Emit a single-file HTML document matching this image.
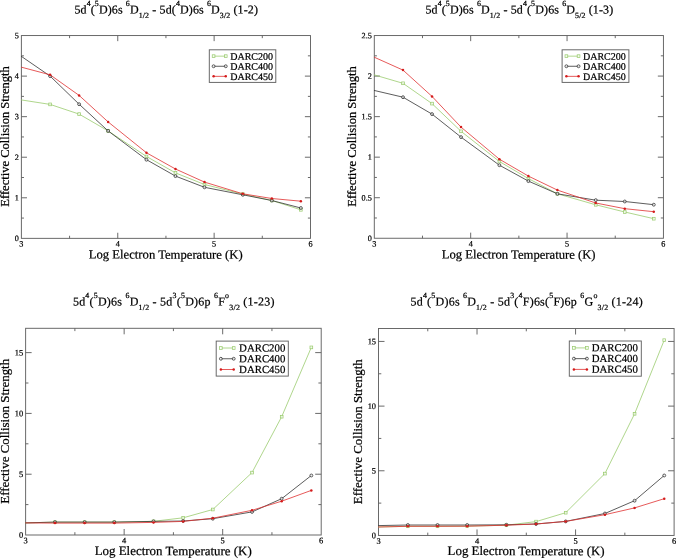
<!DOCTYPE html>
<html><head><meta charset="utf-8"><title>Effective collision strengths</title>
<style>html,body{margin:0;padding:0;background:#fff}svg{display:block}text{font-family:"Liberation Serif",serif;fill:#000;stroke:#000;stroke-width:0.22px}</style>
</head><body>
<svg width="676" height="559" viewBox="0 0 676 559">
<rect width="676" height="559" fill="#fff"/>
<rect x="21.38" y="35.55" width="289.12" height="202.80" fill="none" stroke="#626262" stroke-width="0.95"/>
<path d="M69.57 238.35v-2.60M69.57 35.55v2.60M117.75 238.35v-5.60M117.75 35.55v5.60M165.94 238.35v-2.60M165.94 35.55v2.60M214.13 238.35v-5.60M214.13 35.55v5.60M262.31 238.35v-2.60M262.31 35.55v2.60M21.38 218.07h2.60M310.50 218.07h-2.60M21.38 197.79h5.60M310.50 197.79h-5.60M21.38 177.51h2.60M310.50 177.51h-2.60M21.38 157.23h5.60M310.50 157.23h-5.60M21.38 136.95h2.60M310.50 136.95h-2.60M21.38 116.67h5.60M310.50 116.67h-5.60M21.38 96.39h2.60M310.50 96.39h-2.60M21.38 76.11h5.60M310.50 76.11h-5.60M21.38 55.83h2.60M310.50 55.83h-2.60" stroke="#626262" stroke-width="0.95" fill="none"/>
<text x="21.38" y="246.60" transform="rotate(0.04 21.38 246.60)" font-size="8.2" stroke-width="0.08" text-anchor="middle">3</text>
<text x="117.75" y="246.60" transform="rotate(0.04 117.75 246.60)" font-size="8.2" stroke-width="0.08" text-anchor="middle">4</text>
<text x="214.13" y="246.60" transform="rotate(0.04 214.13 246.60)" font-size="8.2" stroke-width="0.08" text-anchor="middle">5</text>
<text x="310.50" y="246.60" transform="rotate(0.04 310.50 246.60)" font-size="8.2" stroke-width="0.08" text-anchor="middle">6</text>
<text x="18.88" y="241.05" transform="rotate(0.04 18.88 241.05)" font-size="8.2" stroke-width="0.08" text-anchor="end">0</text>
<text x="18.88" y="200.49" transform="rotate(0.04 18.88 200.49)" font-size="8.2" stroke-width="0.08" text-anchor="end">1</text>
<text x="18.88" y="159.93" transform="rotate(0.04 18.88 159.93)" font-size="8.2" stroke-width="0.08" text-anchor="end">2</text>
<text x="18.88" y="119.37" transform="rotate(0.04 18.88 119.37)" font-size="8.2" stroke-width="0.08" text-anchor="end">3</text>
<text x="18.88" y="78.81" transform="rotate(0.04 18.88 78.81)" font-size="8.2" stroke-width="0.08" text-anchor="end">4</text>
<text x="18.88" y="38.25" transform="rotate(0.04 18.88 38.25)" font-size="8.2" stroke-width="0.08" text-anchor="end">5</text>
<text x="165.74" y="258.65" transform="rotate(0.04 165.74 258.65)" font-size="12.67" text-anchor="middle">Log Electron Temperature (K)</text>
<text transform="translate(9.1 136.4) rotate(-90)" font-size="12.55" text-anchor="middle">Effective Collision Strength</text>
<text x="74.40" y="13.40" transform="rotate(0.04 74.40 13.40)" font-size="12.0" letter-spacing="0.124" >5d</text>
<text x="86.65" y="6.00" transform="rotate(0.04 86.65 6.00)" font-size="7.9" letter-spacing="0.124" >4</text>
<text x="90.72" y="13.40" transform="rotate(0.04 90.72 13.40)" font-size="12.0" letter-spacing="0.124" >(</text>
<text x="94.84" y="6.00" transform="rotate(0.04 94.84 6.00)" font-size="7.9" letter-spacing="0.124" >5</text>
<text x="98.92" y="13.40" transform="rotate(0.04 98.92 13.40)" font-size="12.0" letter-spacing="0.124" >D)6s&#160;</text>
<text x="125.87" y="6.00" transform="rotate(0.04 125.87 6.00)" font-size="7.9" letter-spacing="0.124" >6</text>
<text x="129.94" y="13.40" transform="rotate(0.04 129.94 13.40)" font-size="12.0" letter-spacing="0.124" >D</text>
<text x="138.73" y="17.90" transform="rotate(0.04 138.73 17.90)" font-size="7.9" letter-spacing="0.124" >1/2</text>
<text x="149.20" y="13.40" transform="rotate(0.04 149.20 13.40)" font-size="12.0" letter-spacing="0.124" >&#160;-&#160;5d(</text>
<text x="175.93" y="6.00" transform="rotate(0.04 175.93 6.00)" font-size="7.9" letter-spacing="0.124" >4</text>
<text x="180.01" y="13.40" transform="rotate(0.04 180.01 13.40)" font-size="12.0" letter-spacing="0.124" >D)6s&#160;</text>
<text x="206.96" y="6.00" transform="rotate(0.04 206.96 6.00)" font-size="7.9" letter-spacing="0.124" >6</text>
<text x="211.03" y="13.40" transform="rotate(0.04 211.03 13.40)" font-size="12.0" letter-spacing="0.124" >D</text>
<text x="219.82" y="17.90" transform="rotate(0.04 219.82 17.90)" font-size="7.9" letter-spacing="0.124" >3/2</text>
<text x="230.29" y="13.40" transform="rotate(0.04 230.29 13.40)" font-size="12.0" letter-spacing="0.124" >&#160;(1-2)</text>
<polyline points="21.1,99.9 50.1,104.4 79.1,114.1 108.1,130.9 146.5,156.5 175.5,172.9 204.5,184.5 242.8,194.1 271.8,200.5 300.9,209.8" fill="none" stroke="#9acb6e" stroke-width="0.8"/>
<rect x="48.74" y="103.05" width="2.7" height="2.7" fill="#fff" fill-opacity="0.6" stroke="#9acb6e" stroke-width="0.75"/>
<rect x="77.75" y="112.75" width="2.7" height="2.7" fill="#fff" fill-opacity="0.6" stroke="#9acb6e" stroke-width="0.75"/>
<rect x="106.76" y="129.55" width="2.7" height="2.7" fill="#fff" fill-opacity="0.6" stroke="#9acb6e" stroke-width="0.75"/>
<rect x="145.11" y="155.15" width="2.7" height="2.7" fill="#fff" fill-opacity="0.6" stroke="#9acb6e" stroke-width="0.75"/>
<rect x="174.12" y="171.55" width="2.7" height="2.7" fill="#fff" fill-opacity="0.6" stroke="#9acb6e" stroke-width="0.75"/>
<rect x="203.13" y="183.15" width="2.7" height="2.7" fill="#fff" fill-opacity="0.6" stroke="#9acb6e" stroke-width="0.75"/>
<rect x="241.49" y="192.75" width="2.7" height="2.7" fill="#fff" fill-opacity="0.6" stroke="#9acb6e" stroke-width="0.75"/>
<rect x="270.49" y="199.15" width="2.7" height="2.7" fill="#fff" fill-opacity="0.6" stroke="#9acb6e" stroke-width="0.75"/>
<rect x="299.50" y="208.45" width="2.7" height="2.7" fill="#fff" fill-opacity="0.6" stroke="#9acb6e" stroke-width="0.75"/>
<polyline points="21.1,56.2 50.1,76.1 79.1,104.2 108.1,130.9 146.5,159.7 175.5,176.1 204.5,187.3 242.8,194.8 271.8,200.5 300.9,208.0" fill="none" stroke="#333" stroke-width="0.8"/>
<circle cx="50.09" cy="76.10" r="1.45" fill="#fff" fill-opacity="0.6" stroke="#333" stroke-width="0.8"/>
<circle cx="79.10" cy="104.20" r="1.45" fill="#fff" fill-opacity="0.6" stroke="#333" stroke-width="0.8"/>
<circle cx="108.11" cy="130.90" r="1.45" fill="#fff" fill-opacity="0.6" stroke="#333" stroke-width="0.8"/>
<circle cx="146.46" cy="159.70" r="1.45" fill="#fff" fill-opacity="0.6" stroke="#333" stroke-width="0.8"/>
<circle cx="175.47" cy="176.10" r="1.45" fill="#fff" fill-opacity="0.6" stroke="#333" stroke-width="0.8"/>
<circle cx="204.48" cy="187.30" r="1.45" fill="#fff" fill-opacity="0.6" stroke="#333" stroke-width="0.8"/>
<circle cx="242.84" cy="194.80" r="1.45" fill="#fff" fill-opacity="0.6" stroke="#333" stroke-width="0.8"/>
<circle cx="271.84" cy="200.50" r="1.45" fill="#fff" fill-opacity="0.6" stroke="#333" stroke-width="0.8"/>
<circle cx="300.85" cy="208.00" r="1.45" fill="#fff" fill-opacity="0.6" stroke="#333" stroke-width="0.8"/>
<polyline points="21.1,67.1 50.1,74.8 79.1,95.4 108.1,121.9 146.5,152.8 175.5,169.0 204.5,182.1 242.8,193.8 271.8,198.5 300.9,201.2" fill="none" stroke="#e03030" stroke-width="0.8"/>
<circle cx="50.09" cy="74.80" r="1.25" fill="#d41c1c"/>
<circle cx="79.10" cy="95.40" r="1.25" fill="#d41c1c"/>
<circle cx="108.11" cy="121.90" r="1.25" fill="#d41c1c"/>
<circle cx="146.46" cy="152.80" r="1.25" fill="#d41c1c"/>
<circle cx="175.47" cy="169.00" r="1.25" fill="#d41c1c"/>
<circle cx="204.48" cy="182.10" r="1.25" fill="#d41c1c"/>
<circle cx="242.84" cy="193.80" r="1.25" fill="#d41c1c"/>
<circle cx="271.84" cy="198.50" r="1.25" fill="#d41c1c"/>
<circle cx="300.85" cy="201.20" r="1.25" fill="#d41c1c"/>
<rect x="209.30" y="49.80" width="66.50" height="32.60" fill="#fff" stroke="#626262" stroke-width="0.95"/>
<path d="M213.60 56.15H225.75" stroke="#9acb6e" stroke-width="0.8"/>
<rect x="212.25" y="54.80" width="2.7" height="2.7" fill="#fff" fill-opacity="0.6" stroke="#9acb6e" stroke-width="0.75"/>
<rect x="224.40" y="54.80" width="2.7" height="2.7" fill="#fff" fill-opacity="0.6" stroke="#9acb6e" stroke-width="0.75"/>
<text x="230.20" y="59.70" transform="rotate(0.04 230.20 59.70)" font-size="10">DARC200</text>
<path d="M213.60 66.25H225.75" stroke="#333" stroke-width="0.8"/>
<circle cx="213.60" cy="66.25" r="1.45" fill="#fff" fill-opacity="0.6" stroke="#333" stroke-width="0.8"/>
<circle cx="225.75" cy="66.25" r="1.45" fill="#fff" fill-opacity="0.6" stroke="#333" stroke-width="0.8"/>
<text x="230.20" y="69.80" transform="rotate(0.04 230.20 69.80)" font-size="10">DARC400</text>
<path d="M213.60 76.35H225.75" stroke="#e03030" stroke-width="0.8"/>
<circle cx="213.60" cy="76.35" r="1.25" fill="#d41c1c"/>
<circle cx="225.75" cy="76.35" r="1.25" fill="#d41c1c"/>
<text x="230.20" y="79.90" transform="rotate(0.04 230.20 79.90)" font-size="10">DARC450</text>
<rect x="374.30" y="35.55" width="289.13" height="202.70" fill="none" stroke="#626262" stroke-width="0.95"/>
<path d="M422.49 238.25v-2.60M422.49 35.55v2.60M470.68 238.25v-5.60M470.68 35.55v5.60M518.87 238.25v-2.60M518.87 35.55v2.60M567.05 238.25v-5.60M567.05 35.55v5.60M615.24 238.25v-2.60M615.24 35.55v2.60M374.30 217.98h2.60M663.43 217.98h-2.60M374.30 197.71h5.60M663.43 197.71h-5.60M374.30 177.44h2.60M663.43 177.44h-2.60M374.30 157.17h5.60M663.43 157.17h-5.60M374.30 136.90h2.60M663.43 136.90h-2.60M374.30 116.63h5.60M663.43 116.63h-5.60M374.30 96.36h2.60M663.43 96.36h-2.60M374.30 76.09h5.60M663.43 76.09h-5.60M374.30 55.82h2.60M663.43 55.82h-2.60" stroke="#626262" stroke-width="0.95" fill="none"/>
<text x="374.30" y="246.50" transform="rotate(0.04 374.30 246.50)" font-size="8.2" stroke-width="0.08" text-anchor="middle">3</text>
<text x="470.68" y="246.50" transform="rotate(0.04 470.68 246.50)" font-size="8.2" stroke-width="0.08" text-anchor="middle">4</text>
<text x="567.05" y="246.50" transform="rotate(0.04 567.05 246.50)" font-size="8.2" stroke-width="0.08" text-anchor="middle">5</text>
<text x="663.43" y="246.50" transform="rotate(0.04 663.43 246.50)" font-size="8.2" stroke-width="0.08" text-anchor="middle">6</text>
<text x="371.80" y="240.95" transform="rotate(0.04 371.80 240.95)" font-size="8.2" stroke-width="0.08" text-anchor="end">0</text>
<text x="371.80" y="200.41" transform="rotate(0.04 371.80 200.41)" font-size="8.2" stroke-width="0.08" text-anchor="end">0.5</text>
<text x="371.80" y="159.87" transform="rotate(0.04 371.80 159.87)" font-size="8.2" stroke-width="0.08" text-anchor="end">1</text>
<text x="371.80" y="119.33" transform="rotate(0.04 371.80 119.33)" font-size="8.2" stroke-width="0.08" text-anchor="end">1.5</text>
<text x="371.80" y="78.79" transform="rotate(0.04 371.80 78.79)" font-size="8.2" stroke-width="0.08" text-anchor="end">2</text>
<text x="371.80" y="38.25" transform="rotate(0.04 371.80 38.25)" font-size="8.2" stroke-width="0.08" text-anchor="end">2.5</text>
<text x="518.66" y="258.65" transform="rotate(0.04 518.66 258.65)" font-size="12.67" text-anchor="middle">Log Electron Temperature (K)</text>
<text transform="translate(356.4 136.4) rotate(-90)" font-size="12.55" text-anchor="middle">Effective Collision Strength</text>
<text x="425.40" y="13.40" transform="rotate(0.04 425.40 13.40)" font-size="12.0" letter-spacing="0.130" >5d</text>
<text x="437.66" y="6.00" transform="rotate(0.04 437.66 6.00)" font-size="7.9" letter-spacing="0.130" >4</text>
<text x="441.74" y="13.40" transform="rotate(0.04 441.74 13.40)" font-size="12.0" letter-spacing="0.130" >(</text>
<text x="445.87" y="6.00" transform="rotate(0.04 445.87 6.00)" font-size="7.9" letter-spacing="0.130" >5</text>
<text x="449.95" y="13.40" transform="rotate(0.04 449.95 13.40)" font-size="12.0" letter-spacing="0.130" >D)6s&#160;</text>
<text x="476.93" y="6.00" transform="rotate(0.04 476.93 6.00)" font-size="7.9" letter-spacing="0.130" >6</text>
<text x="481.01" y="13.40" transform="rotate(0.04 481.01 13.40)" font-size="12.0" letter-spacing="0.130" >D</text>
<text x="489.80" y="17.90" transform="rotate(0.04 489.80 17.90)" font-size="7.9" letter-spacing="0.130" >1/2</text>
<text x="500.29" y="13.40" transform="rotate(0.04 500.29 13.40)" font-size="12.0" letter-spacing="0.130" >&#160;-&#160;5d</text>
<text x="522.93" y="6.00" transform="rotate(0.04 522.93 6.00)" font-size="7.9" letter-spacing="0.130" >4</text>
<text x="527.01" y="13.40" transform="rotate(0.04 527.01 13.40)" font-size="12.0" letter-spacing="0.130" >(</text>
<text x="531.14" y="6.00" transform="rotate(0.04 531.14 6.00)" font-size="7.9" letter-spacing="0.130" >5</text>
<text x="535.22" y="13.40" transform="rotate(0.04 535.22 13.40)" font-size="12.0" letter-spacing="0.130" >D)6s&#160;</text>
<text x="562.20" y="6.00" transform="rotate(0.04 562.20 6.00)" font-size="7.9" letter-spacing="0.130" >6</text>
<text x="566.28" y="13.40" transform="rotate(0.04 566.28 13.40)" font-size="12.0" letter-spacing="0.130" >D</text>
<text x="575.08" y="17.90" transform="rotate(0.04 575.08 17.90)" font-size="7.9" letter-spacing="0.130" >5/2</text>
<text x="585.56" y="13.40" transform="rotate(0.04 585.56 13.40)" font-size="12.0" letter-spacing="0.130" >&#160;(1-3)</text>
<polyline points="374.0,74.8 403.0,83.3 432.0,103.6 461.0,131.3 499.4,161.5 528.4,178.6 557.4,193.8 595.8,204.8 624.8,212.0 653.8,218.7" fill="none" stroke="#9acb6e" stroke-width="0.8"/>
<rect x="401.66" y="81.95" width="2.7" height="2.7" fill="#fff" fill-opacity="0.6" stroke="#9acb6e" stroke-width="0.75"/>
<rect x="430.67" y="102.25" width="2.7" height="2.7" fill="#fff" fill-opacity="0.6" stroke="#9acb6e" stroke-width="0.75"/>
<rect x="459.68" y="129.95" width="2.7" height="2.7" fill="#fff" fill-opacity="0.6" stroke="#9acb6e" stroke-width="0.75"/>
<rect x="498.04" y="160.15" width="2.7" height="2.7" fill="#fff" fill-opacity="0.6" stroke="#9acb6e" stroke-width="0.75"/>
<rect x="527.05" y="177.25" width="2.7" height="2.7" fill="#fff" fill-opacity="0.6" stroke="#9acb6e" stroke-width="0.75"/>
<rect x="556.05" y="192.45" width="2.7" height="2.7" fill="#fff" fill-opacity="0.6" stroke="#9acb6e" stroke-width="0.75"/>
<rect x="594.41" y="203.45" width="2.7" height="2.7" fill="#fff" fill-opacity="0.6" stroke="#9acb6e" stroke-width="0.75"/>
<rect x="623.42" y="210.65" width="2.7" height="2.7" fill="#fff" fill-opacity="0.6" stroke="#9acb6e" stroke-width="0.75"/>
<rect x="652.43" y="217.35" width="2.7" height="2.7" fill="#fff" fill-opacity="0.6" stroke="#9acb6e" stroke-width="0.75"/>
<polyline points="374.0,90.4 403.0,97.2 432.0,114.1 461.0,137.1 499.4,165.2 528.4,181.1 557.4,193.8 595.8,200.2 624.8,201.5 653.8,204.7" fill="none" stroke="#333" stroke-width="0.8"/>
<circle cx="403.01" cy="97.20" r="1.45" fill="#fff" fill-opacity="0.6" stroke="#333" stroke-width="0.8"/>
<circle cx="432.02" cy="114.10" r="1.45" fill="#fff" fill-opacity="0.6" stroke="#333" stroke-width="0.8"/>
<circle cx="461.03" cy="137.10" r="1.45" fill="#fff" fill-opacity="0.6" stroke="#333" stroke-width="0.8"/>
<circle cx="499.39" cy="165.20" r="1.45" fill="#fff" fill-opacity="0.6" stroke="#333" stroke-width="0.8"/>
<circle cx="528.40" cy="181.10" r="1.45" fill="#fff" fill-opacity="0.6" stroke="#333" stroke-width="0.8"/>
<circle cx="557.40" cy="193.80" r="1.45" fill="#fff" fill-opacity="0.6" stroke="#333" stroke-width="0.8"/>
<circle cx="595.76" cy="200.15" r="1.45" fill="#fff" fill-opacity="0.6" stroke="#333" stroke-width="0.8"/>
<circle cx="624.77" cy="201.50" r="1.45" fill="#fff" fill-opacity="0.6" stroke="#333" stroke-width="0.8"/>
<circle cx="653.78" cy="204.70" r="1.45" fill="#fff" fill-opacity="0.6" stroke="#333" stroke-width="0.8"/>
<polyline points="374.0,57.1 403.0,70.1 432.0,96.4 461.0,127.1 499.4,159.2 528.4,176.1 557.4,190.1 595.8,203.0 624.8,208.7 653.8,211.7" fill="none" stroke="#e03030" stroke-width="0.8"/>
<circle cx="403.01" cy="70.10" r="1.25" fill="#d41c1c"/>
<circle cx="432.02" cy="96.40" r="1.25" fill="#d41c1c"/>
<circle cx="461.03" cy="127.10" r="1.25" fill="#d41c1c"/>
<circle cx="499.39" cy="159.20" r="1.25" fill="#d41c1c"/>
<circle cx="528.40" cy="176.10" r="1.25" fill="#d41c1c"/>
<circle cx="557.40" cy="190.10" r="1.25" fill="#d41c1c"/>
<circle cx="595.76" cy="203.00" r="1.25" fill="#d41c1c"/>
<circle cx="624.77" cy="208.70" r="1.25" fill="#d41c1c"/>
<circle cx="653.78" cy="211.70" r="1.25" fill="#d41c1c"/>
<rect x="562.10" y="49.80" width="66.80" height="32.60" fill="#fff" stroke="#626262" stroke-width="0.95"/>
<path d="M566.40 56.15H578.55" stroke="#9acb6e" stroke-width="0.8"/>
<rect x="565.05" y="54.80" width="2.7" height="2.7" fill="#fff" fill-opacity="0.6" stroke="#9acb6e" stroke-width="0.75"/>
<rect x="577.20" y="54.80" width="2.7" height="2.7" fill="#fff" fill-opacity="0.6" stroke="#9acb6e" stroke-width="0.75"/>
<text x="583.00" y="59.70" transform="rotate(0.04 583.00 59.70)" font-size="10">DARC200</text>
<path d="M566.40 66.25H578.55" stroke="#333" stroke-width="0.8"/>
<circle cx="566.40" cy="66.25" r="1.45" fill="#fff" fill-opacity="0.6" stroke="#333" stroke-width="0.8"/>
<circle cx="578.55" cy="66.25" r="1.45" fill="#fff" fill-opacity="0.6" stroke="#333" stroke-width="0.8"/>
<text x="583.00" y="69.80" transform="rotate(0.04 583.00 69.80)" font-size="10">DARC400</text>
<path d="M566.40 76.35H578.55" stroke="#e03030" stroke-width="0.8"/>
<circle cx="566.40" cy="76.35" r="1.25" fill="#d41c1c"/>
<circle cx="578.55" cy="76.35" r="1.25" fill="#d41c1c"/>
<text x="583.00" y="79.90" transform="rotate(0.04 583.00 79.90)" font-size="10">DARC450</text>
<rect x="25.63" y="328.30" width="295.57" height="206.70" fill="none" stroke="#626262" stroke-width="0.95"/>
<path d="M74.89 535.00v-2.80M74.89 328.30v2.80M124.15 535.00v-6.00M124.15 328.30v6.00M173.41 535.00v-2.80M173.41 328.30v2.80M222.68 535.00v-6.00M222.68 328.30v6.00M271.94 535.00v-2.80M271.94 328.30v2.80M25.63 504.60h2.80M321.20 504.60h-2.80M25.63 474.21h6.00M321.20 474.21h-6.00M25.63 443.81h2.80M321.20 443.81h-2.80M25.63 413.41h6.00M321.20 413.41h-6.00M25.63 383.01h2.80M321.20 383.01h-2.80M25.63 352.62h6.00M321.20 352.62h-6.00" stroke="#626262" stroke-width="0.95" fill="none"/>
<text x="25.63" y="543.30" transform="rotate(0.04 25.63 543.30)" font-size="8.4" stroke-width="0.08" text-anchor="middle">3</text>
<text x="124.15" y="543.30" transform="rotate(0.04 124.15 543.30)" font-size="8.4" stroke-width="0.08" text-anchor="middle">4</text>
<text x="222.68" y="543.30" transform="rotate(0.04 222.68 543.30)" font-size="8.4" stroke-width="0.08" text-anchor="middle">5</text>
<text x="321.20" y="543.30" transform="rotate(0.04 321.20 543.30)" font-size="8.4" stroke-width="0.08" text-anchor="middle">6</text>
<text x="23.13" y="537.80" transform="rotate(0.04 23.13 537.80)" font-size="8.4" stroke-width="0.08" text-anchor="end">0</text>
<text x="23.13" y="477.01" transform="rotate(0.04 23.13 477.01)" font-size="8.4" stroke-width="0.08" text-anchor="end">5</text>
<text x="23.13" y="416.21" transform="rotate(0.04 23.13 416.21)" font-size="8.4" stroke-width="0.08" text-anchor="end">10</text>
<text x="23.13" y="355.42" transform="rotate(0.04 23.13 355.42)" font-size="8.4" stroke-width="0.08" text-anchor="end">15</text>
<text x="173.22" y="555.15" transform="rotate(0.04 173.22 555.15)" font-size="12.93" text-anchor="middle">Log Electron Temperature (K)</text>
<text transform="translate(9.1 431.3) rotate(-90)" font-size="12.95" text-anchor="middle">Effective Collision Strength</text>
<text x="72.90" y="305.50" transform="rotate(0.04 72.90 305.50)" font-size="12.0" letter-spacing="0.236" >5d</text>
<text x="85.37" y="298.10" transform="rotate(0.04 85.37 298.10)" font-size="7.9" letter-spacing="0.236" >4</text>
<text x="89.56" y="305.50" transform="rotate(0.04 89.56 305.50)" font-size="12.0" letter-spacing="0.236" >(</text>
<text x="93.79" y="298.10" transform="rotate(0.04 93.79 298.10)" font-size="7.9" letter-spacing="0.236" >5</text>
<text x="97.98" y="305.50" transform="rotate(0.04 97.98 305.50)" font-size="12.0" letter-spacing="0.236" >D)6s&#160;</text>
<text x="125.49" y="298.10" transform="rotate(0.04 125.49 298.10)" font-size="7.9" letter-spacing="0.236" >6</text>
<text x="129.68" y="305.50" transform="rotate(0.04 129.68 305.50)" font-size="12.0" letter-spacing="0.236" >D</text>
<text x="138.58" y="310.00" transform="rotate(0.04 138.58 310.00)" font-size="7.9" letter-spacing="0.236" >1/2</text>
<text x="149.38" y="305.50" transform="rotate(0.04 149.38 305.50)" font-size="12.0" letter-spacing="0.236" >&#160;-&#160;5d</text>
<text x="172.56" y="298.10" transform="rotate(0.04 172.56 298.10)" font-size="7.9" letter-spacing="0.236" >3</text>
<text x="176.75" y="305.50" transform="rotate(0.04 176.75 305.50)" font-size="12.0" letter-spacing="0.236" >(</text>
<text x="180.98" y="298.10" transform="rotate(0.04 180.98 298.10)" font-size="7.9" letter-spacing="0.236" >5</text>
<text x="185.16" y="305.50" transform="rotate(0.04 185.16 305.50)" font-size="12.0" letter-spacing="0.236" >D)6p&#160;</text>
<text x="214.01" y="298.10" transform="rotate(0.04 214.01 298.10)" font-size="7.9" letter-spacing="0.236" >6</text>
<text x="218.19" y="305.50" transform="rotate(0.04 218.19 305.50)" font-size="12.0" letter-spacing="0.236" >F</text>
<text x="225.10" y="298.10" transform="rotate(0.04 225.10 298.10)" font-size="7.9" letter-spacing="0.236" >o</text>
<text x="229.29" y="310.00" transform="rotate(0.04 229.29 310.00)" font-size="7.9" letter-spacing="0.236" >3/2</text>
<text x="240.09" y="305.50" transform="rotate(0.04 240.09 305.50)" font-size="12.0" letter-spacing="0.236" >&#160;(1-23)</text>
<polyline points="25.3,522.9 55.0,522.1 84.6,522.1 114.3,522.1 153.5,521.3 183.2,517.8 212.8,509.5 252.0,472.6 281.7,416.7 311.3,347.4" fill="none" stroke="#9acb6e" stroke-width="0.8"/>
<rect x="53.64" y="520.80" width="2.7" height="2.7" fill="#fff" fill-opacity="0.6" stroke="#9acb6e" stroke-width="0.75"/>
<rect x="83.29" y="520.80" width="2.7" height="2.7" fill="#fff" fill-opacity="0.6" stroke="#9acb6e" stroke-width="0.75"/>
<rect x="112.95" y="520.80" width="2.7" height="2.7" fill="#fff" fill-opacity="0.6" stroke="#9acb6e" stroke-width="0.75"/>
<rect x="152.16" y="519.95" width="2.7" height="2.7" fill="#fff" fill-opacity="0.6" stroke="#9acb6e" stroke-width="0.75"/>
<rect x="181.81" y="516.45" width="2.7" height="2.7" fill="#fff" fill-opacity="0.6" stroke="#9acb6e" stroke-width="0.75"/>
<rect x="211.47" y="508.15" width="2.7" height="2.7" fill="#fff" fill-opacity="0.6" stroke="#9acb6e" stroke-width="0.75"/>
<rect x="250.68" y="471.25" width="2.7" height="2.7" fill="#fff" fill-opacity="0.6" stroke="#9acb6e" stroke-width="0.75"/>
<rect x="280.34" y="415.35" width="2.7" height="2.7" fill="#fff" fill-opacity="0.6" stroke="#9acb6e" stroke-width="0.75"/>
<rect x="309.99" y="346.05" width="2.7" height="2.7" fill="#fff" fill-opacity="0.6" stroke="#9acb6e" stroke-width="0.75"/>
<polyline points="25.3,522.9 55.0,522.1 84.6,522.1 114.3,522.1 153.5,521.4 183.2,521.0 212.8,518.7 252.0,511.9 281.7,498.7 311.3,475.5" fill="none" stroke="#333" stroke-width="0.8"/>
<circle cx="54.99" cy="522.15" r="1.45" fill="#fff" fill-opacity="0.6" stroke="#333" stroke-width="0.8"/>
<circle cx="84.64" cy="522.15" r="1.45" fill="#fff" fill-opacity="0.6" stroke="#333" stroke-width="0.8"/>
<circle cx="114.30" cy="522.15" r="1.45" fill="#fff" fill-opacity="0.6" stroke="#333" stroke-width="0.8"/>
<circle cx="153.51" cy="521.40" r="1.45" fill="#fff" fill-opacity="0.6" stroke="#333" stroke-width="0.8"/>
<circle cx="183.16" cy="521.00" r="1.45" fill="#fff" fill-opacity="0.6" stroke="#333" stroke-width="0.8"/>
<circle cx="212.82" cy="518.70" r="1.45" fill="#fff" fill-opacity="0.6" stroke="#333" stroke-width="0.8"/>
<circle cx="252.03" cy="511.90" r="1.45" fill="#fff" fill-opacity="0.6" stroke="#333" stroke-width="0.8"/>
<circle cx="281.69" cy="498.70" r="1.45" fill="#fff" fill-opacity="0.6" stroke="#333" stroke-width="0.8"/>
<circle cx="311.34" cy="475.50" r="1.45" fill="#fff" fill-opacity="0.6" stroke="#333" stroke-width="0.8"/>
<polyline points="25.3,522.9 55.0,523.1 84.6,523.1 114.3,523.1 153.5,522.4 183.2,521.4 212.8,518.2 252.0,510.3 281.7,501.2 311.3,490.4" fill="none" stroke="#e03030" stroke-width="0.8"/>
<circle cx="54.99" cy="523.10" r="1.25" fill="#d41c1c"/>
<circle cx="84.64" cy="523.10" r="1.25" fill="#d41c1c"/>
<circle cx="114.30" cy="523.10" r="1.25" fill="#d41c1c"/>
<circle cx="153.51" cy="522.40" r="1.25" fill="#d41c1c"/>
<circle cx="183.16" cy="521.40" r="1.25" fill="#d41c1c"/>
<circle cx="212.82" cy="518.20" r="1.25" fill="#d41c1c"/>
<circle cx="252.03" cy="510.30" r="1.25" fill="#d41c1c"/>
<circle cx="281.69" cy="501.20" r="1.25" fill="#d41c1c"/>
<circle cx="311.34" cy="490.40" r="1.25" fill="#d41c1c"/>
<rect x="216.20" y="341.10" width="72.10" height="35.00" fill="#fff" stroke="#626262" stroke-width="0.95"/>
<path d="M220.90 348.00H233.70" stroke="#9acb6e" stroke-width="0.8"/>
<rect x="219.55" y="346.65" width="2.7" height="2.7" fill="#fff" fill-opacity="0.6" stroke="#9acb6e" stroke-width="0.75"/>
<rect x="232.35" y="346.65" width="2.7" height="2.7" fill="#fff" fill-opacity="0.6" stroke="#9acb6e" stroke-width="0.75"/>
<text x="239.10" y="351.45" transform="rotate(0.04 239.10 351.45)" font-size="10.8">DARC200</text>
<path d="M220.90 358.75H233.70" stroke="#333" stroke-width="0.8"/>
<circle cx="220.90" cy="358.75" r="1.45" fill="#fff" fill-opacity="0.6" stroke="#333" stroke-width="0.8"/>
<circle cx="233.70" cy="358.75" r="1.45" fill="#fff" fill-opacity="0.6" stroke="#333" stroke-width="0.8"/>
<text x="239.10" y="362.20" transform="rotate(0.04 239.10 362.20)" font-size="10.8">DARC400</text>
<path d="M220.90 369.50H233.70" stroke="#e03030" stroke-width="0.8"/>
<circle cx="220.90" cy="369.50" r="1.25" fill="#d41c1c"/>
<circle cx="233.70" cy="369.50" r="1.25" fill="#d41c1c"/>
<text x="239.10" y="372.95" transform="rotate(0.04 239.10 372.95)" font-size="10.8">DARC450</text>
<rect x="378.50" y="328.50" width="295.60" height="206.95" fill="none" stroke="#626262" stroke-width="0.95"/>
<path d="M427.77 535.45v-2.80M427.77 328.50v2.80M477.03 535.45v-6.00M477.03 328.50v6.00M526.30 535.45v-2.80M526.30 328.50v2.80M575.57 535.45v-6.00M575.57 328.50v6.00M624.83 535.45v-2.80M624.83 328.50v2.80M378.50 503.11h2.80M674.10 503.11h-2.80M378.50 470.78h6.00M674.10 470.78h-6.00M378.50 438.44h2.80M674.10 438.44h-2.80M378.50 406.11h6.00M674.10 406.11h-6.00M378.50 373.77h2.80M674.10 373.77h-2.80M378.50 341.43h6.00M674.10 341.43h-6.00" stroke="#626262" stroke-width="0.95" fill="none"/>
<text x="378.50" y="543.75" transform="rotate(0.04 378.50 543.75)" font-size="8.4" stroke-width="0.08" text-anchor="middle">3</text>
<text x="477.03" y="543.75" transform="rotate(0.04 477.03 543.75)" font-size="8.4" stroke-width="0.08" text-anchor="middle">4</text>
<text x="575.57" y="543.75" transform="rotate(0.04 575.57 543.75)" font-size="8.4" stroke-width="0.08" text-anchor="middle">5</text>
<text x="674.10" y="543.75" transform="rotate(0.04 674.10 543.75)" font-size="8.4" stroke-width="0.08" text-anchor="middle">6</text>
<text x="376.00" y="538.25" transform="rotate(0.04 376.00 538.25)" font-size="8.4" stroke-width="0.08" text-anchor="end">0</text>
<text x="376.00" y="473.58" transform="rotate(0.04 376.00 473.58)" font-size="8.4" stroke-width="0.08" text-anchor="end">5</text>
<text x="376.00" y="408.91" transform="rotate(0.04 376.00 408.91)" font-size="8.4" stroke-width="0.08" text-anchor="end">10</text>
<text x="376.00" y="344.23" transform="rotate(0.04 376.00 344.23)" font-size="8.4" stroke-width="0.08" text-anchor="end">15</text>
<text x="526.10" y="555.15" transform="rotate(0.04 526.10 555.15)" font-size="12.93" text-anchor="middle">Log Electron Temperature (K)</text>
<text transform="translate(362.3 431.7) rotate(-90)" font-size="12.95" text-anchor="middle">Effective Collision Strength</text>
<text x="410.45" y="305.50" transform="rotate(0.04 410.45 305.50)" font-size="12.0" letter-spacing="0.237" >5d</text>
<text x="422.92" y="298.10" transform="rotate(0.04 422.92 298.10)" font-size="7.9" letter-spacing="0.237" >4</text>
<text x="427.11" y="305.50" transform="rotate(0.04 427.11 305.50)" font-size="12.0" letter-spacing="0.237" >(</text>
<text x="431.35" y="298.10" transform="rotate(0.04 431.35 298.10)" font-size="7.9" letter-spacing="0.237" >5</text>
<text x="435.53" y="305.50" transform="rotate(0.04 435.53 305.50)" font-size="12.0" letter-spacing="0.237" >D)6s&#160;</text>
<text x="463.05" y="298.10" transform="rotate(0.04 463.05 298.10)" font-size="7.9" letter-spacing="0.237" >6</text>
<text x="467.24" y="305.50" transform="rotate(0.04 467.24 305.50)" font-size="12.0" letter-spacing="0.237" >D</text>
<text x="476.14" y="310.00" transform="rotate(0.04 476.14 310.00)" font-size="7.9" letter-spacing="0.237" >1/2</text>
<text x="486.95" y="305.50" transform="rotate(0.04 486.95 305.50)" font-size="12.0" letter-spacing="0.237" >&#160;-&#160;5d</text>
<text x="510.13" y="298.10" transform="rotate(0.04 510.13 298.10)" font-size="7.9" letter-spacing="0.237" >3</text>
<text x="514.32" y="305.50" transform="rotate(0.04 514.32 305.50)" font-size="12.0" letter-spacing="0.237" >(</text>
<text x="518.55" y="298.10" transform="rotate(0.04 518.55 298.10)" font-size="7.9" letter-spacing="0.237" >4</text>
<text x="522.74" y="305.50" transform="rotate(0.04 522.74 305.50)" font-size="12.0" letter-spacing="0.237" >F)6s(</text>
<text x="549.26" y="298.10" transform="rotate(0.04 549.26 298.10)" font-size="7.9" letter-spacing="0.237" >5</text>
<text x="553.45" y="305.50" transform="rotate(0.04 553.45 305.50)" font-size="12.0" letter-spacing="0.237" >F)6p&#160;</text>
<text x="580.30" y="298.10" transform="rotate(0.04 580.30 298.10)" font-size="7.9" letter-spacing="0.237" >6</text>
<text x="584.49" y="305.50" transform="rotate(0.04 584.49 305.50)" font-size="12.0" letter-spacing="0.237" >G</text>
<text x="593.39" y="298.10" transform="rotate(0.04 593.39 298.10)" font-size="7.9" letter-spacing="0.237" >o</text>
<text x="597.58" y="310.00" transform="rotate(0.04 597.58 310.00)" font-size="7.9" letter-spacing="0.237" >3/2</text>
<text x="608.39" y="305.50" transform="rotate(0.04 608.39 305.50)" font-size="12.0" letter-spacing="0.237" >&#160;(1-24)</text>
<polyline points="378.2,527.0 407.9,526.3 437.5,526.3 467.2,526.2 506.4,525.2 536.1,521.6 565.7,512.7 604.9,473.6 634.6,413.8 664.2,340.2" fill="none" stroke="#9acb6e" stroke-width="0.8"/>
<rect x="406.51" y="524.95" width="2.7" height="2.7" fill="#fff" fill-opacity="0.6" stroke="#9acb6e" stroke-width="0.75"/>
<rect x="436.17" y="524.95" width="2.7" height="2.7" fill="#fff" fill-opacity="0.6" stroke="#9acb6e" stroke-width="0.75"/>
<rect x="465.83" y="524.85" width="2.7" height="2.7" fill="#fff" fill-opacity="0.6" stroke="#9acb6e" stroke-width="0.75"/>
<rect x="505.04" y="523.85" width="2.7" height="2.7" fill="#fff" fill-opacity="0.6" stroke="#9acb6e" stroke-width="0.75"/>
<rect x="534.70" y="520.25" width="2.7" height="2.7" fill="#fff" fill-opacity="0.6" stroke="#9acb6e" stroke-width="0.75"/>
<rect x="564.36" y="511.35" width="2.7" height="2.7" fill="#fff" fill-opacity="0.6" stroke="#9acb6e" stroke-width="0.75"/>
<rect x="603.58" y="472.25" width="2.7" height="2.7" fill="#fff" fill-opacity="0.6" stroke="#9acb6e" stroke-width="0.75"/>
<rect x="633.23" y="412.45" width="2.7" height="2.7" fill="#fff" fill-opacity="0.6" stroke="#9acb6e" stroke-width="0.75"/>
<rect x="662.89" y="338.85" width="2.7" height="2.7" fill="#fff" fill-opacity="0.6" stroke="#9acb6e" stroke-width="0.75"/>
<polyline points="378.2,525.6 407.9,525.0 437.5,525.0 467.2,525.0 506.4,524.8 536.1,524.0 565.7,521.4 604.9,513.5 634.6,500.7 664.2,475.5" fill="none" stroke="#333" stroke-width="0.8"/>
<circle cx="407.86" cy="525.00" r="1.45" fill="#fff" fill-opacity="0.6" stroke="#333" stroke-width="0.8"/>
<circle cx="437.52" cy="525.00" r="1.45" fill="#fff" fill-opacity="0.6" stroke="#333" stroke-width="0.8"/>
<circle cx="467.18" cy="525.00" r="1.45" fill="#fff" fill-opacity="0.6" stroke="#333" stroke-width="0.8"/>
<circle cx="506.39" cy="524.80" r="1.45" fill="#fff" fill-opacity="0.6" stroke="#333" stroke-width="0.8"/>
<circle cx="536.05" cy="524.00" r="1.45" fill="#fff" fill-opacity="0.6" stroke="#333" stroke-width="0.8"/>
<circle cx="565.71" cy="521.40" r="1.45" fill="#fff" fill-opacity="0.6" stroke="#333" stroke-width="0.8"/>
<circle cx="604.93" cy="513.50" r="1.45" fill="#fff" fill-opacity="0.6" stroke="#333" stroke-width="0.8"/>
<circle cx="634.58" cy="500.70" r="1.45" fill="#fff" fill-opacity="0.6" stroke="#333" stroke-width="0.8"/>
<circle cx="664.24" cy="475.50" r="1.45" fill="#fff" fill-opacity="0.6" stroke="#333" stroke-width="0.8"/>
<polyline points="378.2,527.0 407.9,526.3 437.5,526.3 467.2,526.2 506.4,525.2 536.1,524.0 565.7,521.4 604.9,514.7 634.6,507.9 664.2,498.7" fill="none" stroke="#e03030" stroke-width="0.8"/>
<circle cx="407.86" cy="526.30" r="1.25" fill="#d41c1c"/>
<circle cx="437.52" cy="526.30" r="1.25" fill="#d41c1c"/>
<circle cx="467.18" cy="526.20" r="1.25" fill="#d41c1c"/>
<circle cx="506.39" cy="525.20" r="1.25" fill="#d41c1c"/>
<circle cx="536.05" cy="524.00" r="1.25" fill="#d41c1c"/>
<circle cx="565.71" cy="521.40" r="1.25" fill="#d41c1c"/>
<circle cx="604.93" cy="514.70" r="1.25" fill="#d41c1c"/>
<circle cx="634.58" cy="507.90" r="1.25" fill="#d41c1c"/>
<circle cx="664.24" cy="498.70" r="1.25" fill="#d41c1c"/>
<rect x="569.30" y="341.00" width="72.00" height="35.20" fill="#fff" stroke="#626262" stroke-width="0.95"/>
<path d="M573.90 347.90H586.90" stroke="#9acb6e" stroke-width="0.8"/>
<rect x="572.55" y="346.55" width="2.7" height="2.7" fill="#fff" fill-opacity="0.6" stroke="#9acb6e" stroke-width="0.75"/>
<rect x="585.55" y="346.55" width="2.7" height="2.7" fill="#fff" fill-opacity="0.6" stroke="#9acb6e" stroke-width="0.75"/>
<text x="591.70" y="351.35" transform="rotate(0.04 591.70 351.35)" font-size="10.8">DARC200</text>
<path d="M573.90 358.65H586.90" stroke="#333" stroke-width="0.8"/>
<circle cx="573.90" cy="358.65" r="1.45" fill="#fff" fill-opacity="0.6" stroke="#333" stroke-width="0.8"/>
<circle cx="586.90" cy="358.65" r="1.45" fill="#fff" fill-opacity="0.6" stroke="#333" stroke-width="0.8"/>
<text x="591.70" y="362.10" transform="rotate(0.04 591.70 362.10)" font-size="10.8">DARC400</text>
<path d="M573.90 369.40H586.90" stroke="#e03030" stroke-width="0.8"/>
<circle cx="573.90" cy="369.40" r="1.25" fill="#d41c1c"/>
<circle cx="586.90" cy="369.40" r="1.25" fill="#d41c1c"/>
<text x="591.70" y="372.85" transform="rotate(0.04 591.70 372.85)" font-size="10.8">DARC450</text>
</svg>
</body></html>
